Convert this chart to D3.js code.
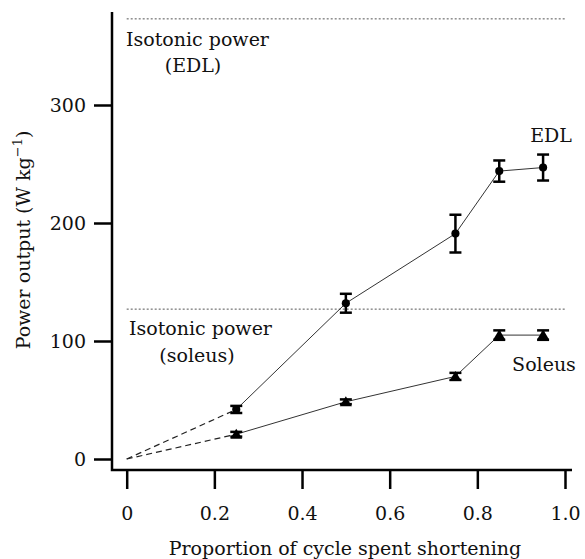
<!DOCTYPE html>
<html>
<head>
<meta charset="utf-8">
<script src="https://cdn.jsdelivr.net/npm/d3@7"></script>
<style>
  body { margin: 0; background: #fff; }
  svg { display: block; }
</style>
</head>
<body>
<svg width="585" height="559"></svg>
<script>
// data
var proportion = [0.25, 0.5, 0.75, 0.85, 0.95];
var edlPower = [42, 132, 191, 244, 247];
var edlErr = [3, 8, 16, 9, 11];
var soleusPower = [21, 48.5, 70, 105, 105];
var soleusErr = [2, 2, 3, 4, 4];
var isotonicEDL = 373,
    isotonicSoleus = 127;
var xTicks = [0, 0.2, 0.4, 0.6, 0.8, 1.0],
    xTickLabels = ["0", "0.2", "0.4", "0.6", "0.8", "1.0"];
var yTicks = [0, 100, 200, 300];

var svg = d3.select("svg");
// Liberation Serif isn't picked up in the sandbox, DejaVu Serif is
var FONT = "DejaVu Serif, serif";

var x = d3.scaleLinear().domain([0, 1]).range([126.7, 565]),
    y = d3.scaleLinear().domain([0, 300]).range([459, 105]);

var axisX = 112, axisY = 470;

// axes
var gy = svg.append("g").attr("transform", "translate(" + (axisX - 1) + ",0)")
    .call(d3.axisLeft(y).tickValues(yTicks).tickSize(17).tickSizeOuter(0).tickPadding(8));
var gx = svg.append("g").attr("transform", "translate(0," + (axisY + 1) + ")")
    .call(d3.axisBottom(x).tickValues(xTicks).tickFormat(function(d, i) { return xTickLabels[i]; })
        .tickSize(18).tickSizeOuter(0).tickPadding(18));

[gx, gy].forEach(function(g) {
    g.attr("font-family", FONT);
    g.select(".domain").remove();
    g.selectAll(".tick line").attr("stroke", "#000").attr("stroke-width", 2.5);
    g.selectAll(".tick text").attr("font-family", FONT).attr("font-size", 19).attr("fill", "#111");
});

// domain lines joined at the corner
svg.append("path")
    .attr("d", "M" + axisX + "," + 12 + "V" + axisY + "H" + 572)
    .attr("fill", "none").attr("stroke", "#000").attr("stroke-width", 2.5);

// isotonic reference lines
[isotonicEDL, isotonicSoleus].forEach(function(v) {
    svg.append("line")
        .attr("x1", x(0)).attr("x2", x(1))
        .attr("y1", y(v)).attr("y2", y(v))
        .attr("stroke", "#555").attr("stroke-width", 1).attr("stroke-dasharray", "2,2");
});

function drawSeries(vals, errs, shape) {
    var pts = proportion.map(function(p, i) { return [x(p), y(vals[i])]; });

    // dashed extrapolation to origin
    svg.append("line")
        .attr("x1", x(0)).attr("y1", y(0))
        .attr("x2", pts[0][0]).attr("y2", pts[0][1])
        .attr("stroke", "#222").attr("stroke-width", 1.2).attr("stroke-dasharray", "6,4");

    svg.append("path")
        .attr("d", d3.line()(pts))
        .attr("fill", "none").attr("stroke", "#333").attr("stroke-width", 1);

    // error bars
    var eb = svg.append("g").attr("stroke", "#000").attr("stroke-width", 2.5);
    proportion.forEach(function(p, i) {
        var cx = x(p), top = y(vals[i] + errs[i]), bot = y(vals[i] - errs[i]);
        eb.append("line").attr("x1", cx).attr("x2", cx).attr("y1", top).attr("y2", bot);
        eb.append("line").attr("x1", cx - 6).attr("x2", cx + 6).attr("y1", top).attr("y2", top);
        eb.append("line").attr("x1", cx - 6).attr("x2", cx + 6).attr("y1", bot).attr("y2", bot);
    });

    svg.append("g").selectAll("path").data(pts).join("path")
        .attr("transform", function(d) { return "translate(" + d[0] + "," + d[1] + ")"; })
        .attr("d", shape === "circle" ? d3.symbol(d3.symbolCircle, 52)() : "M0,-5.5L6,4.5L-6,4.5Z")
        .attr("fill", "#000");
}

drawSeries(edlPower, edlErr, "circle");
drawSeries(soleusPower, soleusErr, "triangle");

// annotations
function label(txt, lx, ly, anchor) {
    svg.append("text").attr("x", lx).attr("y", ly).attr("font-size", 19)
        .attr("font-family", FONT).attr("fill", "#111")
        .attr("text-anchor", anchor || "start").text(txt);
}
label("Isotonic power", 126, 46);
label("(EDL)", 193, 72, "middle");
label("Isotonic power", 129, 335);
label("(soleus)", 197, 362, "middle");
label("EDL", 551, 142, "middle");
label("Soleus", 544, 371, "middle");

// axis titles
label("Proportion of cycle spent shortening", 345, 555, "middle");

var yt = svg.append("text").attr("transform", "translate(30,240) rotate(-90)")
    .attr("font-family", FONT).attr("fill", "#111")
    .attr("font-size", 19).attr("text-anchor", "middle");
yt.append("tspan").text("Power output (W kg");
yt.append("tspan").attr("font-size", 13).attr("dy", -8).text("\u22121");
yt.append("tspan").attr("dy", 8).text(")");
</script>
</body>
</html>
